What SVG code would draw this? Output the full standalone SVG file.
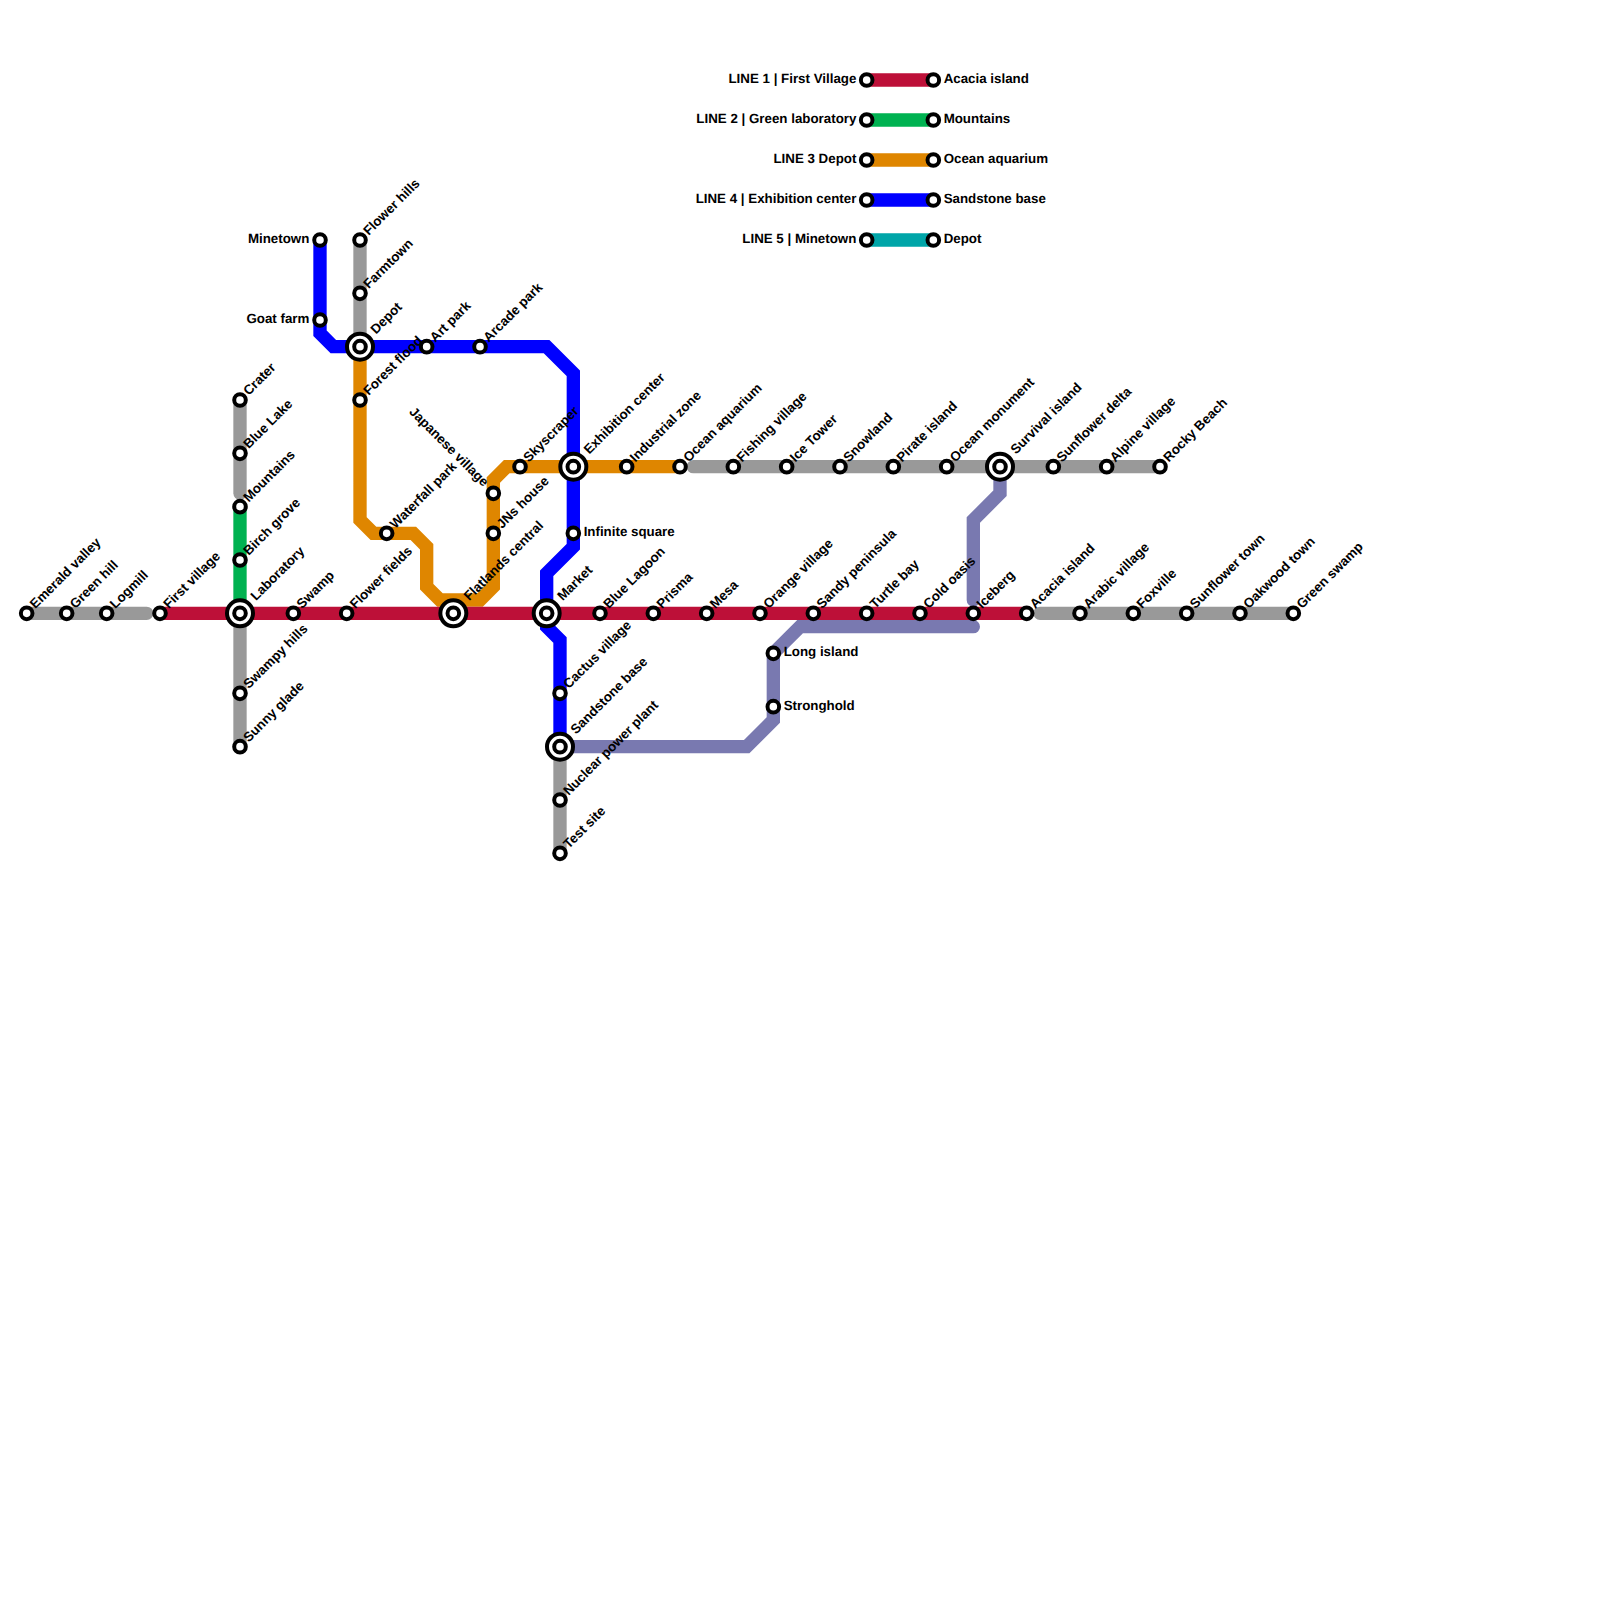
<svg xmlns="http://www.w3.org/2000/svg" width="1600" height="1600" viewBox="0 0 1600 1600">
<style>
text{font-family:"Liberation Sans",Arial,sans-serif;font-size:13.33px;font-weight:bold;fill:#000;text-rendering:geometricPrecision}
.line{fill:none;stroke-width:13.33;stroke-linecap:round;stroke-linejoin:miter}
.red{stroke:#bd1038}.gray{stroke:#999}.green{stroke:#00b251}.orange{stroke:#df8600}.blue{stroke:#00f}.purple{stroke:#7979b0}.teal{stroke:#00a5a8}
.ring{fill:#fff;stroke:#000;stroke-width:4}
.e{text-anchor:end}
</style>
<defs>
<g id="st"><circle class="ring" r="5.8"/></g>
<g id="ix"><circle class="ring" r="13"/><circle class="ring" r="5.8"/></g>
</defs>
<rect width="1600" height="1600" fill="#fff"/>
<g id="connectors">
<path class="line gray" d="M26.67 613.33H146.67"/>
<path class="line gray" d="M1040 613.33H1293.33"/>
<path class="line gray" d="M693.33 466.67H1160"/>
<path class="line gray" d="M240 400V493.33"/>
<path class="line gray" d="M240 613.33V746.67"/>
<path class="line gray" d="M360 240V346.67"/>
<path class="line gray" d="M560 746.67V853.33"/>
<path class="line green" d="M240 506.67V613.33"/>
<path class="line orange" d="M360 346.67V520L373.33 533.33H413.33L426.67 546.67V586.67L440 600H480L493.33 586.67V480L506.67 466.67H680"/>
<path class="line blue" d="M320 240V333.33L333.33 346.67H546.67L573.33 373.33V546.67L546.67 573.33V626.67L560 640V746.67"/>
<path class="line purple" d="M1000 466.67V493.33L973.33 520V600"/>
<path class="line purple" d="M560 746.67H746.67L773.33 720V653.33L800 626.67H973.33"/>
<path class="line red" d="M160 613.33H1026.67"/>
<path class="line red" d="M866.67 80H933.33"/>
<path class="line green" d="M866.67 120H933.33"/>
<path class="line orange" d="M866.67 160H933.33"/>
<path class="line blue" d="M866.67 200H933.33"/>
<path class="line teal" d="M866.67 240H933.33"/>
</g>
<g id="stations">
<g id="emerald-valley" transform="translate(26.67,613.33)"><use href="#st"/><text transform="translate(8.7,-4) rotate(-45)">Emerald valley</text></g>
<g id="green-hill" transform="translate(66.67,613.33)"><use href="#st"/><text transform="translate(8.7,-4) rotate(-45)">Green hill</text></g>
<g id="logmill" transform="translate(106.67,613.33)"><use href="#st"/><text transform="translate(8.7,-4) rotate(-45)">Logmill</text></g>
<g id="first-village" transform="translate(160,613.33)"><use href="#st"/><text transform="translate(8.7,-4) rotate(-45)">First village</text></g>
<g id="laboratory" transform="translate(240,613.33)"><use href="#ix"/><text transform="translate(16,-12) rotate(-45)">Laboratory</text></g>
<g id="swamp" transform="translate(293.33,613.33)"><use href="#st"/><text transform="translate(8.7,-4) rotate(-45)">Swamp</text></g>
<g id="flower-fields" transform="translate(346.67,613.33)"><use href="#st"/><text transform="translate(8.7,-4) rotate(-45)">Flower fields</text></g>
<g id="flatlands-central" transform="translate(453.33,613.33)"><use href="#ix"/><text transform="translate(16,-12) rotate(-45)">Flatlands central</text></g>
<g id="market" transform="translate(546.67,613.33)"><use href="#ix"/><text transform="translate(16,-12) rotate(-45)">Market</text></g>
<g id="blue-lagoon" transform="translate(600,613.33)"><use href="#st"/><text transform="translate(8.7,-4) rotate(-45)">Blue Lagoon</text></g>
<g id="prisma" transform="translate(653.33,613.33)"><use href="#st"/><text transform="translate(8.7,-4) rotate(-45)">Prisma</text></g>
<g id="mesa" transform="translate(706.67,613.33)"><use href="#st"/><text transform="translate(8.7,-4) rotate(-45)">Mesa</text></g>
<g id="orange-village" transform="translate(760,613.33)"><use href="#st"/><text transform="translate(8.7,-4) rotate(-45)">Orange village</text></g>
<g id="sandy-peninsula" transform="translate(813.33,613.33)"><use href="#st"/><text transform="translate(8.7,-4) rotate(-45)">Sandy peninsula</text></g>
<g id="turtle-bay" transform="translate(866.67,613.33)"><use href="#st"/><text transform="translate(8.7,-4) rotate(-45)">Turtle bay</text></g>
<g id="cold-oasis" transform="translate(920,613.33)"><use href="#st"/><text transform="translate(8.7,-4) rotate(-45)">Cold oasis</text></g>
<g id="iceberg" transform="translate(973.33,613.33)"><use href="#st"/><text transform="translate(8.7,-4) rotate(-45)">Iceberg</text></g>
<g id="acacia-island" transform="translate(1026.67,613.33)"><use href="#st"/><text transform="translate(8.7,-4) rotate(-45)">Acacia island</text></g>
<g id="arabic-village" transform="translate(1080,613.33)"><use href="#st"/><text transform="translate(8.7,-4) rotate(-45)">Arabic village</text></g>
<g id="foxville" transform="translate(1133.33,613.33)"><use href="#st"/><text transform="translate(8.7,-4) rotate(-45)">Foxville</text></g>
<g id="sunflower-town" transform="translate(1186.67,613.33)"><use href="#st"/><text transform="translate(8.7,-4) rotate(-45)">Sunflower town</text></g>
<g id="oakwood-town" transform="translate(1240,613.33)"><use href="#st"/><text transform="translate(8.7,-4) rotate(-45)">Oakwood town</text></g>
<g id="green-swamp" transform="translate(1293.33,613.33)"><use href="#st"/><text transform="translate(8.7,-4) rotate(-45)">Green swamp</text></g>
<g id="crater" transform="translate(240,400)"><use href="#st"/><text transform="translate(8.7,-4) rotate(-45)">Crater</text></g>
<g id="blue-lake" transform="translate(240,453.33)"><use href="#st"/><text transform="translate(8.7,-4) rotate(-45)">Blue Lake</text></g>
<g id="mountains" transform="translate(240,506.67)"><use href="#st"/><text transform="translate(8.7,-4) rotate(-45)">Mountains</text></g>
<g id="birch-grove" transform="translate(240,560)"><use href="#st"/><text transform="translate(8.7,-4) rotate(-45)">Birch grove</text></g>
<g id="swampy-hills" transform="translate(240,693.33)"><use href="#st"/><text transform="translate(8.7,-4) rotate(-45)">Swampy hills</text></g>
<g id="sunny-glade" transform="translate(240,746.67)"><use href="#st"/><text transform="translate(8.7,-4) rotate(-45)">Sunny glade</text></g>
<g id="minetown" transform="translate(320,240)"><use href="#st"/><text class="e" x="-10.67" y="3">Minetown</text></g>
<g id="goat-farm" transform="translate(320,320)"><use href="#st"/><text class="e" x="-10.67" y="3">Goat farm</text></g>
<g id="flower-hills" transform="translate(360,240)"><use href="#st"/><text transform="translate(8.7,-4) rotate(-45)">Flower hills</text></g>
<g id="farmtown" transform="translate(360,293.33)"><use href="#st"/><text transform="translate(8.7,-4) rotate(-45)">Farmtown</text></g>
<g id="depot" transform="translate(360,346.67)"><use href="#ix"/><text transform="translate(16,-12) rotate(-45)">Depot</text></g>
<g id="forest-flood" transform="translate(360,400)"><use href="#st"/><text transform="translate(8.7,-4) rotate(-45)">Forest flood</text></g>
<g id="art-park" transform="translate(426.67,346.67)"><use href="#st"/><text transform="translate(8.7,-4) rotate(-45)">Art park</text></g>
<g id="arcade-park" transform="translate(480,346.67)"><use href="#st"/><text transform="translate(8.7,-4) rotate(-45)">Arcade park</text></g>
<g id="waterfall-park" transform="translate(386.67,533.33)"><use href="#st"/><text transform="translate(8.7,-4) rotate(-45)">Waterfall park</text></g>
<g id="japanese-village" transform="translate(493.33,493.33)"><use href="#st"/><text class="e" transform="translate(-10,-6) rotate(45)">Japanese village</text></g>
<g id="jns-house" transform="translate(493.33,533.33)"><use href="#st"/><text transform="translate(8.7,-4) rotate(-45)">JNs house</text></g>
<g id="skyscraper" transform="translate(520,466.67)"><use href="#st"/><text transform="translate(8.7,-4) rotate(-45)">Skyscraper</text></g>
<g id="exhibition-center" transform="translate(573.33,466.67)"><use href="#ix"/><text transform="translate(16,-12) rotate(-45)">Exhibition center</text></g>
<g id="infinite-square" transform="translate(573.33,533.33)"><use href="#st"/><text x="10.3" y="3">Infinite square</text></g>
<g id="industrial-zone" transform="translate(626.67,466.67)"><use href="#st"/><text transform="translate(8.7,-4) rotate(-45)">Industrial zone</text></g>
<g id="ocean-aquarium" transform="translate(680,466.67)"><use href="#st"/><text transform="translate(8.7,-4) rotate(-45)">Ocean aquarium</text></g>
<g id="fishing-village" transform="translate(733.33,466.67)"><use href="#st"/><text transform="translate(8.7,-4) rotate(-45)">Fishing village</text></g>
<g id="ice-tower" transform="translate(786.67,466.67)"><use href="#st"/><text transform="translate(8.7,-4) rotate(-45)">Ice Tower</text></g>
<g id="snowland" transform="translate(840,466.67)"><use href="#st"/><text transform="translate(8.7,-4) rotate(-45)">Snowland</text></g>
<g id="pirate-island" transform="translate(893.33,466.67)"><use href="#st"/><text transform="translate(8.7,-4) rotate(-45)">Pirate island</text></g>
<g id="ocean-monument" transform="translate(946.67,466.67)"><use href="#st"/><text transform="translate(8.7,-4) rotate(-45)">Ocean monument</text></g>
<g id="survival-island" transform="translate(1000,466.67)"><use href="#ix"/><text transform="translate(16,-12) rotate(-45)">Survival island</text></g>
<g id="sunflower-delta" transform="translate(1053.33,466.67)"><use href="#st"/><text transform="translate(8.7,-4) rotate(-45)">Sunflower delta</text></g>
<g id="alpine-village" transform="translate(1106.67,466.67)"><use href="#st"/><text transform="translate(8.7,-4) rotate(-45)">Alpine village</text></g>
<g id="rocky-beach" transform="translate(1160,466.67)"><use href="#st"/><text transform="translate(8.7,-4) rotate(-45)">Rocky Beach</text></g>
<g id="cactus-village" transform="translate(560,693.33)"><use href="#st"/><text transform="translate(8.7,-4) rotate(-45)">Cactus village</text></g>
<g id="sandstone-base" transform="translate(560,746.67)"><use href="#ix"/><text transform="translate(16,-12) rotate(-45)">Sandstone base</text></g>
<g id="nuclear-power-plant" transform="translate(560,800)"><use href="#st"/><text transform="translate(8.7,-4) rotate(-45)">Nuclear power plant</text></g>
<g id="test-site" transform="translate(560,853.33)"><use href="#st"/><text transform="translate(8.7,-4) rotate(-45)">Test site</text></g>
<g id="long-island" transform="translate(773.33,653.33)"><use href="#st"/><text x="10.3" y="3">Long island</text></g>
<g id="stronghold" transform="translate(773.33,706.67)"><use href="#st"/><text x="10.3" y="3">Stronghold</text></g>
</g>
<g id="legend">
<g id="legend-1-start" transform="translate(866.67,80)"><use href="#st"/><text class="e" x="-10.3" y="3">LINE 1 | First Village</text></g>
<g id="legend-1-end" transform="translate(933.33,80)"><use href="#st"/><text x="10.3" y="3">Acacia island</text></g>
<g id="legend-2-start" transform="translate(866.67,120)"><use href="#st"/><text class="e" x="-10.3" y="3">LINE 2 | Green laboratory</text></g>
<g id="legend-2-end" transform="translate(933.33,120)"><use href="#st"/><text x="10.3" y="3">Mountains</text></g>
<g id="legend-3-start" transform="translate(866.67,160)"><use href="#st"/><text class="e" x="-10.3" y="3">LINE 3 Depot</text></g>
<g id="legend-3-end" transform="translate(933.33,160)"><use href="#st"/><text x="10.3" y="3">Ocean aquarium</text></g>
<g id="legend-4-start" transform="translate(866.67,200)"><use href="#st"/><text class="e" x="-10.3" y="3">LINE 4 | Exhibition center</text></g>
<g id="legend-4-end" transform="translate(933.33,200)"><use href="#st"/><text x="10.3" y="3">Sandstone base</text></g>
<g id="legend-5-start" transform="translate(866.67,240)"><use href="#st"/><text class="e" x="-10.3" y="3">LINE 5 | Minetown</text></g>
<g id="legend-5-end" transform="translate(933.33,240)"><use href="#st"/><text x="10.3" y="3">Depot</text></g>
</g>
</svg>
